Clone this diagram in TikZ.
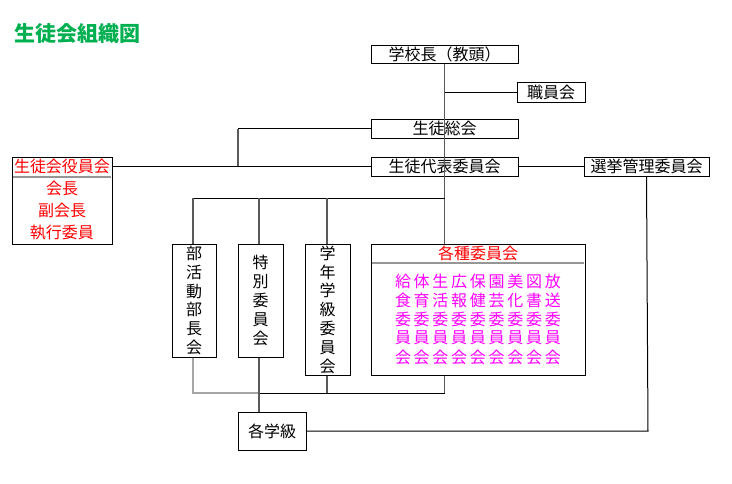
\documentclass[tikz,border=0pt]{standalone}
\usepackage{fontspec}
\setmainfont{Noto Sans CJK JP}
\definecolor{ttlgreen}{RGB}{0,176,80}
\definecolor{linegray}{RGB}{90,90,90}
\definecolor{lightline}{RGB}{165,165,165}
\definecolor{sepgray}{RGB}{150,150,150}
\definecolor{magtext}{RGB}{255,0,255}
\definecolor{redtext}{RGB}{255,0,0}
\newcommand\fsz{\fontsize{16}{18.8}\selectfont}
\newcommand\gc[1]{\makebox[18.75pt]{#1}}
\begin{document}
\begin{tikzpicture}[x=1pt,y=-1pt,
  box/.style={draw=black,line width=1pt,inner sep=0pt,rectangle,font=\fsz,align=center},
  txt/.style={inner sep=0pt,font=\fsz},
  hl/.style={line width=1pt,black},
  vl/.style={line width=1.2pt,linegray},
  lgl/.style={line width=2.2pt,lightline},
  sepl/.style={line width=2pt,sepgray}]
\useasboundingbox (0,0) rectangle (732,483);

% title
\node[inner sep=0pt,font=\fontsize{21}{24}\selectfont\bfseries,text=ttlgreen,anchor=west] (title) at (14,34) {生徒会組織図};

% boxes
\node[box,minimum width=147pt,minimum height=18pt] (kocho) at (444.5,54) {学校長（教頭）};
\node[box,minimum width=68pt,minimum height=20pt] (shokuin) at (551,92) {職員会};
\node[box,minimum width=147pt,minimum height=19pt] (sokai) at (444.5,128.5) {生徒総会};
\node[box,minimum width=147pt,minimum height=19pt] (daihyo) at (444.5,166.5) {生徒代表委員会};
\node[box,minimum width=125pt,minimum height=19pt] (senkyo) at (646.5,166.5) {選挙管理委員会};
\node[box,minimum width=100pt,minimum height=87pt] (yakuin) at (62,200.5) {};
\node[box,minimum width=44pt,minimum height=113pt] (bukatsu) at (194,300.5) {部\\活\\動\\部\\長\\会};
\node[box,minimum width=45pt,minimum height=113pt] (tokubetsu) at (260.5,300.5) {特\\別\\委\\員\\会};
\node[box,minimum width=45pt,minimum height=131pt] (gakunen) at (327.5,309.5) {学\\年\\学\\級\\委\\員\\会};
\node[box,minimum width=214pt,minimum height=131pt] (kakushu) at (478,309.5) {};
\node[box,minimum width=68pt,minimum height=38pt] (kakugakkyu) at (272,431) {各学級};

% yakuin contents
\coordinate (y1) at (13,176.5);
\coordinate (y2) at (111,176.5);
\draw[sepl] (y1) -- (y2);
\node[txt,text=redtext] (yhead) at (62,166) {生徒会役員会};
\node[txt,text=redtext] (ykaicho) at (62,188.5) {会長};
\node[txt,text=redtext] (yfuku) at (62,210.5) {副会長};
\node[txt,text=redtext] (yshikko) at (62,233) {執行委員};

% kakushu contents
\coordinate (k1) at (372,263);
\coordinate (k2) at (584,263);
\draw[sepl] (k1) -- (k2);
\node[txt,text=redtext] (khead) at (478,253) {各種委員会};
\node[txt,text=magtext] (kr1) at (478,281) {\gc{給}\gc{体}\gc{生}\gc{広}\gc{保}\gc{園}\gc{美}\gc{図}\gc{放}};
\node[txt,text=magtext] (kr2) at (478,300) {\gc{食}\gc{育}\gc{活}\gc{報}\gc{健}\gc{芸}\gc{化}\gc{書}\gc{送}};
\node[txt,text=magtext] (kr3) at (478,319) {\gc{委}\gc{委}\gc{委}\gc{委}\gc{委}\gc{委}\gc{委}\gc{委}\gc{委}};
\node[txt,text=magtext] (kr4) at (478,338) {\gc{員}\gc{員}\gc{員}\gc{員}\gc{員}\gc{員}\gc{員}\gc{員}\gc{員}};
\node[txt,text=magtext] (kr5) at (478,357) {\gc{会}\gc{会}\gc{会}\gc{会}\gc{会}\gc{会}\gc{会}\gc{会}\gc{会}};

% connector coordinates
\coordinate (jShok) at (444.5,92);
\coordinate (jTop) at (444.5,198);
\coordinate (jKak) at (444.5,244);
\coordinate (jBot) at (444.5,393);
\coordinate (lS) at (238,128.5);
\coordinate (lD) at (238,166.5);
\coordinate (yE) at (112,166.5);
\coordinate (tB) at (193,198);
\coordinate (tT) at (259,198);
\coordinate (tG) at (327,198);
\coordinate (bB) at (193,393);
\coordinate (bT) at (259,393);
\coordinate (bG) at (327,393);
\coordinate (sC) at (648,431);

% main vertical
\draw[vl] (kocho.south) -- (jKak);
\draw[hl] (jShok) -- (shokuin.west);
% left branch from sokai
\draw[hl] (sokai.west) -- (lS);
\draw[vl] (lS) -- (lD);
\draw[hl] (yE) -- (daihyo.west);
\draw[hl] (daihyo.east) -- (senkyo.west);
% senkyo to kakugakkyu
\draw[hl] (senkyo.south) -- (sC) -- (kakugakkyu.east);
% top distribution line
\draw[hl] (tB) -- (jTop);
\draw[vl] (tB) -- (bukatsu.north -| tB);
\draw[vl] (tT) -- (tokubetsu.north -| tT);
\draw[vl] (tG) -- (gakunen.north -| tG);
% bottom collection
\draw[lgl] (bukatsu.south -| bB) -- (bB) -- (bT);
\draw[vl] (kakushu.south -| jBot) -- (jBot);
\draw[vl] (gakunen.south -| bG) -- (bG);
\draw[hl] (bT) -- (jBot);
\draw[vl] (tokubetsu.south -| bT) -- (kakugakkyu.north -| bT);
\end{tikzpicture}
\end{document}
